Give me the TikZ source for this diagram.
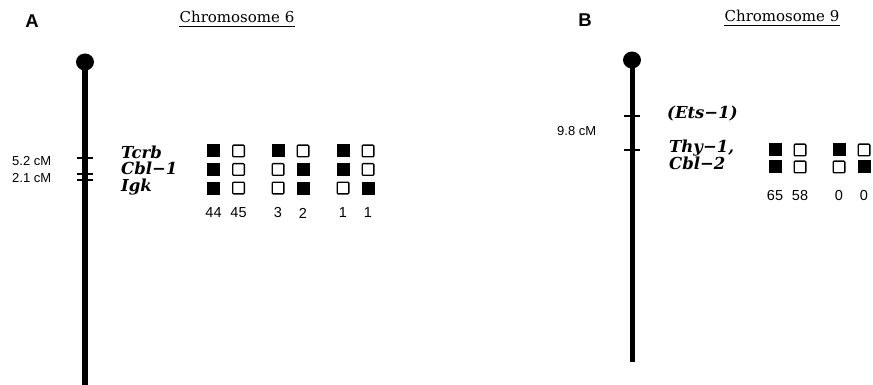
\documentclass[tikz,border=0pt]{standalone}
\usepackage{fontspec}
\usetikzlibrary{shapes.geometric}
\setmainfont{DejaVu Serif}
\setsansfont{Liberation Sans}
\begin{document}
\begin{tikzpicture}[x=1pt,y=-1pt,
          panel/.style={font=\sffamily\bfseries\fontsize{18.5}{18.5}\selectfont,inner sep=0pt},
          title/.style={font=\fontsize{15}{15}\selectfont,inner sep=0pt},
          gene/.style={font=\bfseries\itshape\fontsize{16.5}{16.5}\selectfont,anchor=base west,inner sep=0pt},
          dist/.style={font=\sffamily\fontsize{13}{13}\selectfont,anchor=west,inner sep=0pt},
          count/.style={font=\sffamily\fontsize{14.5}{14.5}\selectfont,inner sep=0pt},
          sqF/.style={fill=black,minimum size=13,inner sep=0pt},
          sqO/.style={draw=black,line width=1.3,rounded corners=1,minimum size=11.7,inner sep=0pt},
          cen/.style={ellipse,fill=black,minimum width=18,minimum height=17,inner sep=0pt},
          arm/.style={line width=5.5},
          tick/.style={line width=1.6}]
          \useasboundingbox (0,0) rectangle (873,385);

          \node[panel] (labA) at (32,21) {A};
          \node[title] (ttlA) at (237,17) {Chromosome 6};
          \draw[line width=0.9] (ttlA.south west) ++(0,3) coordinate (ulA) -- (ulA -| ttlA.south east);

          \node[cen] (cenA) at (85,62) {};
          \coordinate (endA) at (85,385);
          \draw[arm] (cenA.center) -- (endA);
          \draw[tick] (77,158) -- (93,158);
          \draw[tick] (77,174) -- (93,174);
          \draw[tick] (77,180) -- (93,180);
          \node[dist] (dA1) at (12,161) {5.2 cM};
          \node[dist] (dA2) at (12,178) {2.1 cM};

          \node[gene] (gTcrb) at (121,158) {Tcrb};
          \node[gene] (gCbla) at (121,175) {Cbl−1};
          \node[gene] (gIgk) at (121,192) {Igk};

          \foreach \x/\p/\q/\r/\n [count=\i] in {213.5/F/F/F/44,238.5/O/O/O/45,278/F/O/O/3,303/O/F/F/2,343/F/F/O/1,368/O/O/F/1}{
            \node[sq\p] (a\i-1) at (\x,151) {};
            \node[sq\q] (a\i-2) at (\x,169.5) {};
            \node[sq\r] (a\i-3) at (\x,188) {};
            \node[count] (na\i) at (\x,213) {\n};
          }

          \node[panel] (labB) at (585,20) {B};
          \node[title] (ttlB) at (782,16) {Chromosome 9};
          \draw[line width=0.9] (ttlB.south west) ++(0,3) coordinate (ulB) -- (ulB -| ttlB.south east);

          \node[cen] (cenB) at (632,60) {};
          \coordinate (endB) at (632,362);
          \draw[arm,line width=5] (cenB.center) -- (endB);
          \draw[tick] (624,116) -- (640,116);
          \draw[tick] (624,150) -- (640,150);
          \node[dist] (dB1) at (557,131) {9.8 cM};

          \node[gene] (gEts) at (667,119) {(Ets−1)};
          \node[gene] (gThy) at (669,153) {Thy−1,};
          \node[gene] (gCblb) at (669,170) {Cbl−2};

          \foreach \x/\p/\q/\n [count=\i] in {775/F/F/65,800/O/O/58,839/F/O/0,864/O/F/0}{
            \node[sq\p] (b\i-1) at (\x,150) {};
            \node[sq\q] (b\i-2) at (\x,167) {};
            \node[count] (nb\i) at (\x,196) {\n};
          }
      \end{tikzpicture}
\end{document}
